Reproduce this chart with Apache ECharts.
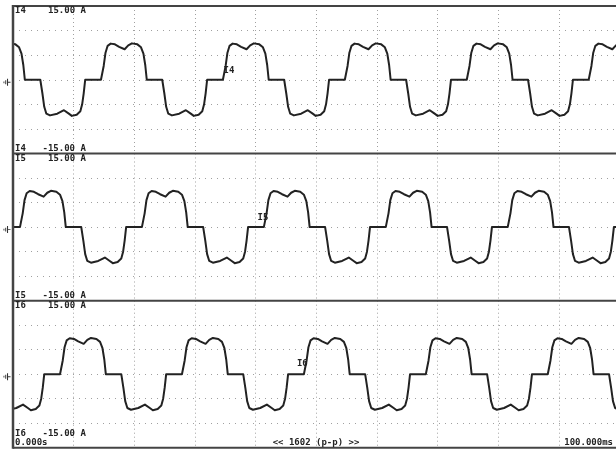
<!DOCTYPE html>
<html>
<head>
<meta charset="utf-8">
<script src="https://cdn.jsdelivr.net/npm/echarts@6/dist/echarts.min.js"></script>
<style>
  html, body { margin: 0; padding: 0; background: #fff; }
  #chart { width: 616px; height: 451px; }
</style>
</head>
<body>
<div id="chart"></div>
<script>
// Channel names and vertical span (A) of each trace window
const channels = ['I4', 'I5', 'I6'];
const ampTop = 15;
const ampBottom = -15;
const timeStart = 0;      // ms
const timeVisibleEnd = 99.4; // ms, the record runs to 100 ms just past the right edge
const footerLeft = '0.000s';
const footerMid = '<< 1602 (p-p) >>';
const footerRight = '100.000ms';

// Phase current I4: [time ms, current A]
const i4Points = [
  [-1.7,6.2],[-1.1,7.0],[-0.5,7.4],[0.4,7.2],[1.0,6.6],[1.4,5.3],[1.7,3.0],[1.95,0],
  [4.5,0],[4.85,-2.8],[5.15,-5.5],[5.5,-6.9],[6.1,-7.25],[7.3,-6.9],[8.4,-6.2],[9.2,-6.9],[9.7,-7.35],[10.5,-7.1],[11.1,-6.4],[11.4,-5.0],[11.65,-2.8],[11.9,0],
  [14.5,0],[14.95,2.8],[15.25,5.5],[15.6,6.9],[16.1,7.35],[16.8,7.2],[17.5,6.7],[18.4,6.2],[19.0,7.0],[19.6,7.4],[20.5,7.2],[21.1,6.6],[21.5,5.3],[21.8,3.0],[22.05,0],
  [24.6,0],[24.95,-2.8],[25.25,-5.5],[25.6,-6.9],[26.2,-7.25],[27.4,-6.9],[28.5,-6.2],[29.3,-6.9],[29.8,-7.35],[30.6,-7.1],[31.2,-6.4],[31.5,-5.0],[31.75,-2.8],[32.0,0],
  [34.6,0],[35.05,2.8],[35.35,5.5],[35.7,6.9],[36.2,7.35],[36.9,7.2],[37.6,6.7],[38.5,6.2],[39.1,7.0],[39.7,7.4],[40.6,7.2],[41.2,6.6],[41.6,5.3],[41.9,3.0],[42.15,0],
  [44.7,0],[45.05,-2.8],[45.35,-5.5],[45.7,-6.9],[46.3,-7.25],[47.5,-6.9],[48.6,-6.2],[49.4,-6.9],[49.9,-7.35],[50.7,-7.1],[51.3,-6.4],[51.6,-5.0],[51.85,-2.8],[52.1,0],
  [54.7,0],[55.15,2.8],[55.45,5.5],[55.8,6.9],[56.3,7.35],[57.0,7.2],[57.7,6.7],[58.6,6.2],[59.2,7.0],[59.8,7.4],[60.7,7.2],[61.3,6.6],[61.7,5.3],[62.0,3.0],[62.25,0],
  [64.8,0],[65.15,-2.8],[65.45,-5.5],[65.8,-6.9],[66.4,-7.25],[67.6,-6.9],[68.7,-6.2],[69.5,-6.9],[70.0,-7.35],[70.8,-7.1],[71.4,-6.4],[71.7,-5.0],[71.95,-2.8],[72.2,0],
  [74.8,0],[75.25,2.8],[75.55,5.5],[75.9,6.9],[76.4,7.35],[77.1,7.2],[77.8,6.7],[78.7,6.2],[79.3,7.0],[79.9,7.4],[80.8,7.2],[81.4,6.6],[81.8,5.3],[82.1,3.0],[82.35,0],
  [84.9,0],[85.25,-2.8],[85.55,-5.5],[85.9,-6.9],[86.5,-7.25],[87.7,-6.9],[88.8,-6.2],[89.6,-6.9],[90.1,-7.35],[90.9,-7.1],[91.5,-6.4],[91.8,-5.0],[92.05,-2.8],[92.3,0],
  [94.9,0],[95.35,2.8],[95.65,5.5],[96.0,6.9],[96.5,7.35],[97.2,7.2],[97.9,6.7],[98.8,6.2],[99.4,7.0],[100.0,7.4],[100.9,7.2]
];

// Phase current I5: [time ms, current A]
const i5Points = [
  [-1,0],
  [1.15,0],[1.6,2.8],[1.9,5.5],[2.25,6.9],[2.75,7.35],[3.45,7.2],[4.15,6.7],[5.05,6.2],[5.65,7.0],[6.25,7.4],[7.15,7.2],[7.75,6.6],[8.15,5.3],[8.45,3.0],[8.7,0],
  [11.25,0],[11.6,-2.8],[11.9,-5.5],[12.25,-6.9],[12.85,-7.25],[14.05,-6.9],[15.15,-6.2],[15.95,-6.9],[16.45,-7.35],[17.25,-7.1],[17.85,-6.4],[18.15,-5.0],[18.4,-2.8],[18.65,0],
  [21.25,0],[21.7,2.8],[22.0,5.5],[22.35,6.9],[22.85,7.35],[23.55,7.2],[24.25,6.7],[25.15,6.2],[25.75,7.0],[26.35,7.4],[27.25,7.2],[27.85,6.6],[28.25,5.3],[28.55,3.0],[28.8,0],
  [31.35,0],[31.7,-2.8],[32.0,-5.5],[32.35,-6.9],[32.95,-7.25],[34.15,-6.9],[35.25,-6.2],[36.05,-6.9],[36.55,-7.35],[37.35,-7.1],[37.95,-6.4],[38.25,-5.0],[38.5,-2.8],[38.75,0],
  [41.35,0],[41.8,2.8],[42.1,5.5],[42.45,6.9],[42.95,7.35],[43.65,7.2],[44.35,6.7],[45.25,6.2],[45.85,7.0],[46.45,7.4],[47.35,7.2],[47.95,6.6],[48.35,5.3],[48.65,3.0],[48.9,0],
  [51.45,0],[51.8,-2.8],[52.1,-5.5],[52.45,-6.9],[53.05,-7.25],[54.25,-6.9],[55.35,-6.2],[56.15,-6.9],[56.65,-7.35],[57.45,-7.1],[58.05,-6.4],[58.35,-5.0],[58.6,-2.8],[58.85,0],
  [61.45,0],[61.9,2.8],[62.2,5.5],[62.55,6.9],[63.05,7.35],[63.75,7.2],[64.45,6.7],[65.35,6.2],[65.95,7.0],[66.55,7.4],[67.45,7.2],[68.05,6.6],[68.45,5.3],[68.75,3.0],[69.0,0],
  [71.55,0],[71.9,-2.8],[72.2,-5.5],[72.55,-6.9],[73.15,-7.25],[74.35,-6.9],[75.45,-6.2],[76.25,-6.9],[76.75,-7.35],[77.55,-7.1],[78.15,-6.4],[78.45,-5.0],[78.7,-2.8],[78.95,0],
  [81.55,0],[82.0,2.8],[82.3,5.5],[82.65,6.9],[83.15,7.35],[83.85,7.2],[84.55,6.7],[85.45,6.2],[86.05,7.0],[86.65,7.4],[87.55,7.2],[88.15,6.6],[88.55,5.3],[88.85,3.0],[89.1,0],
  [91.65,0],[92.0,-2.8],[92.3,-5.5],[92.65,-6.9],[93.25,-7.25],[94.45,-6.9],[95.55,-6.2],[96.35,-6.9],[96.85,-7.35],[97.65,-7.1],[98.25,-6.4],[98.55,-5.0],[98.8,-2.8],[99.05,0],
  [101.65,0]
];

// Phase current I6: [time ms, current A]
const i6Points = [
  [-1.6,-5.5],[-1.25,-6.9],[-0.65,-7.25],[0.55,-6.9],[1.65,-6.2],[2.45,-6.9],[2.95,-7.35],[3.75,-7.1],[4.35,-6.4],[4.65,-5.0],[4.9,-2.8],[5.15,0],
  [7.75,0],[8.2,2.8],[8.5,5.5],[8.85,6.9],[9.35,7.35],[10.05,7.2],[10.75,6.7],[11.65,6.2],[12.25,7.0],[12.85,7.4],[13.75,7.2],[14.35,6.6],[14.75,5.3],[15.05,3.0],[15.3,0],
  [17.85,0],[18.2,-2.8],[18.5,-5.5],[18.85,-6.9],[19.45,-7.25],[20.65,-6.9],[21.75,-6.2],[22.55,-6.9],[23.05,-7.35],[23.85,-7.1],[24.45,-6.4],[24.75,-5.0],[25.0,-2.8],[25.25,0],
  [27.85,0],[28.3,2.8],[28.6,5.5],[28.95,6.9],[29.45,7.35],[30.15,7.2],[30.85,6.7],[31.75,6.2],[32.35,7.0],[32.95,7.4],[33.85,7.2],[34.45,6.6],[34.85,5.3],[35.15,3.0],[35.4,0],
  [37.95,0],[38.3,-2.8],[38.6,-5.5],[38.95,-6.9],[39.55,-7.25],[40.75,-6.9],[41.85,-6.2],[42.65,-6.9],[43.15,-7.35],[43.95,-7.1],[44.55,-6.4],[44.85,-5.0],[45.1,-2.8],[45.35,0],
  [47.95,0],[48.4,2.8],[48.7,5.5],[49.05,6.9],[49.55,7.35],[50.25,7.2],[50.95,6.7],[51.85,6.2],[52.45,7.0],[53.05,7.4],[53.95,7.2],[54.55,6.6],[54.95,5.3],[55.25,3.0],[55.5,0],
  [58.05,0],[58.4,-2.8],[58.7,-5.5],[59.05,-6.9],[59.65,-7.25],[60.85,-6.9],[61.95,-6.2],[62.75,-6.9],[63.25,-7.35],[64.05,-7.1],[64.65,-6.4],[64.95,-5.0],[65.2,-2.8],[65.45,0],
  [68.05,0],[68.5,2.8],[68.8,5.5],[69.15,6.9],[69.65,7.35],[70.35,7.2],[71.05,6.7],[71.95,6.2],[72.55,7.0],[73.15,7.4],[74.05,7.2],[74.65,6.6],[75.05,5.3],[75.35,3.0],[75.6,0],
  [78.15,0],[78.5,-2.8],[78.8,-5.5],[79.15,-6.9],[79.75,-7.25],[80.95,-6.9],[82.05,-6.2],[82.85,-6.9],[83.35,-7.35],[84.15,-7.1],[84.75,-6.4],[85.05,-5.0],[85.3,-2.8],[85.55,0],
  [88.15,0],[88.6,2.8],[88.9,5.5],[89.25,6.9],[89.75,7.35],[90.45,7.2],[91.15,6.7],[92.05,6.2],[92.65,7.0],[93.25,7.4],[94.15,7.2],[94.75,6.6],[95.15,5.3],[95.45,3.0],[95.7,0],
  [98.25,0],[98.6,-2.8],[98.9,-5.5],[99.25,-6.9],[99.85,-7.25],[101.05,-6.9]
];

// Where each channel tag sits on its own trace: [time ms, current A]
const tagPoints = [[35.6, 1.8], [41.2, 1.9], [47.7, 2.1]];

const traces = [i4Points, i5Points, i6Points];

// Panel boxes (px); the plot runs from the left frame to the right edge of the page
const panels = [
  { top: 6, height: 147.5 },
  { top: 153.5, height: 147.2 },
  { top: 300.7, height: 147 }
];
const plotLeft = 13;
const pageW = 616;
// Vertical offset of the lower scale readout above each panel's bottom frame
const lowReadoutLift = [5, 5, 13.7];

const ink = '#222222';
const frameColor = '#444444';
const dotColor = '#a0a0a0';
const monoFont = 'bold 9px "DejaVu Sans Mono", "Liberation Mono", monospace';
const groundPath = 'path://M4,0h1.2v8h-1.2z M2,1.8h1.1v4.4h-1.1z M0,3h1v2h-1z M5,3.5h3v1h-3z';

const chart = echarts.init(document.getElementById('chart'), null, { renderer: 'canvas' });

const grids = [], xAxes = [], yAxes = [], series = [], gfx = [];

channels.forEach((name, k) => {
  const p = panels[k];
  grids.push({
    left: plotLeft, top: p.top, right: 0, height: p.height,
    show: false
  });
  xAxes.push({
    type: 'value', gridIndex: k, min: timeStart, max: timeVisibleEnd, interval: 10,
    axisLine: { show: false }, axisTick: { show: false }, axisLabel: { show: false },
    splitLine: { show: true, lineStyle: { color: dotColor, width: 1, type: [1, 3] } }
  });
  yAxes.push({
    type: 'value', gridIndex: k, min: ampBottom, max: ampTop, interval: 5,
    axisLine: { show: false }, axisTick: { show: false }, axisLabel: { show: false },
    splitLine: { show: true, lineStyle: { color: dotColor, width: 1, type: [1, 5] } }
  });
  series.push({
    type: 'line', name: name, xAxisIndex: k, yAxisIndex: k,
    data: traces[k], showSymbol: false, symbol: 'none', clip: true,
    lineStyle: { color: ink, width: 2, join: 'round', cap: 'round' },
    animation: false,
    markPoint: {
      animation: false,
      data: [
        {
          coord: tagPoints[k], symbol: 'rect', symbolSize: [1, 1],
          itemStyle: { color: 'rgba(0,0,0,0)' },
          label: { show: true, position: 'inside', formatter: name, color: ink,
                   fontFamily: 'DejaVu Sans Mono', fontWeight: 'bold', fontSize: 9 }
        },
        {
          coord: [timeStart, 0], symbol: groundPath, symbolSize: [7, 7],
          symbolOffset: [-6, 2.5], itemStyle: { color: '#333' },
          label: { show: false }
        }
      ]
    }
  });
  // Channel scale readouts at the top and bottom of the panel
  const topY = p.top + 5;
  const botY = p.top + p.height - lowReadoutLift[k];
  gfx.push({ type: 'text', x: 15, y: topY, z: 10, style: { text: name, font: monoFont, fill: ink, verticalAlign: 'middle' } });
  gfx.push({ type: 'text', x: 48, y: topY, z: 10, style: { text: ampTop.toFixed(2) + ' A', font: monoFont, fill: ink, verticalAlign: 'middle' } });
  gfx.push({ type: 'text', x: 15, y: botY, z: 10, style: { text: name, font: monoFont, fill: ink, verticalAlign: 'middle' } });
  gfx.push({ type: 'text', x: 42.5, y: botY, z: 10, style: { text: ampBottom.toFixed(2) + ' A', font: monoFont, fill: ink, verticalAlign: 'middle' } });
  // Horizontal frame line on top of this panel
  gfx.push({ type: 'line', z: 5, shape: { x1: plotLeft, y1: p.top, x2: pageW, y2: p.top },
             style: { stroke: frameColor, lineWidth: 2 } });
});

// Bottom and left frame lines
const last = panels[panels.length - 1];
const frameBottom = last.top + last.height;
gfx.push({ type: 'line', z: 5, shape: { x1: plotLeft, y1: frameBottom, x2: pageW, y2: frameBottom },
           style: { stroke: frameColor, lineWidth: 2 } });
gfx.push({ type: 'line', z: 5, shape: { x1: plotLeft, y1: panels[0].top - 1, x2: plotLeft, y2: frameBottom + 1 },
           style: { stroke: frameColor, lineWidth: 2.5 } });

// Time-base footer
gfx.push({ type: 'text', x: 15, y: 443, z: 10, style: { text: footerLeft, font: monoFont, fill: ink, verticalAlign: 'middle' } });
gfx.push({ type: 'text', x: 316, y: 443, z: 10, style: { text: footerMid, font: monoFont, fill: ink, align: 'center', verticalAlign: 'middle' } });
gfx.push({ type: 'text', x: 613, y: 442.5, z: 10, style: { text: footerRight, font: monoFont, fill: ink, align: 'right', verticalAlign: 'middle' } });

chart.setOption({
  backgroundColor: '#ffffff',
  animation: false,
  grid: grids,
  xAxis: xAxes,
  yAxis: yAxes,
  series: series,
  graphic: { elements: gfx }
});
</script>
</body>
</html>
